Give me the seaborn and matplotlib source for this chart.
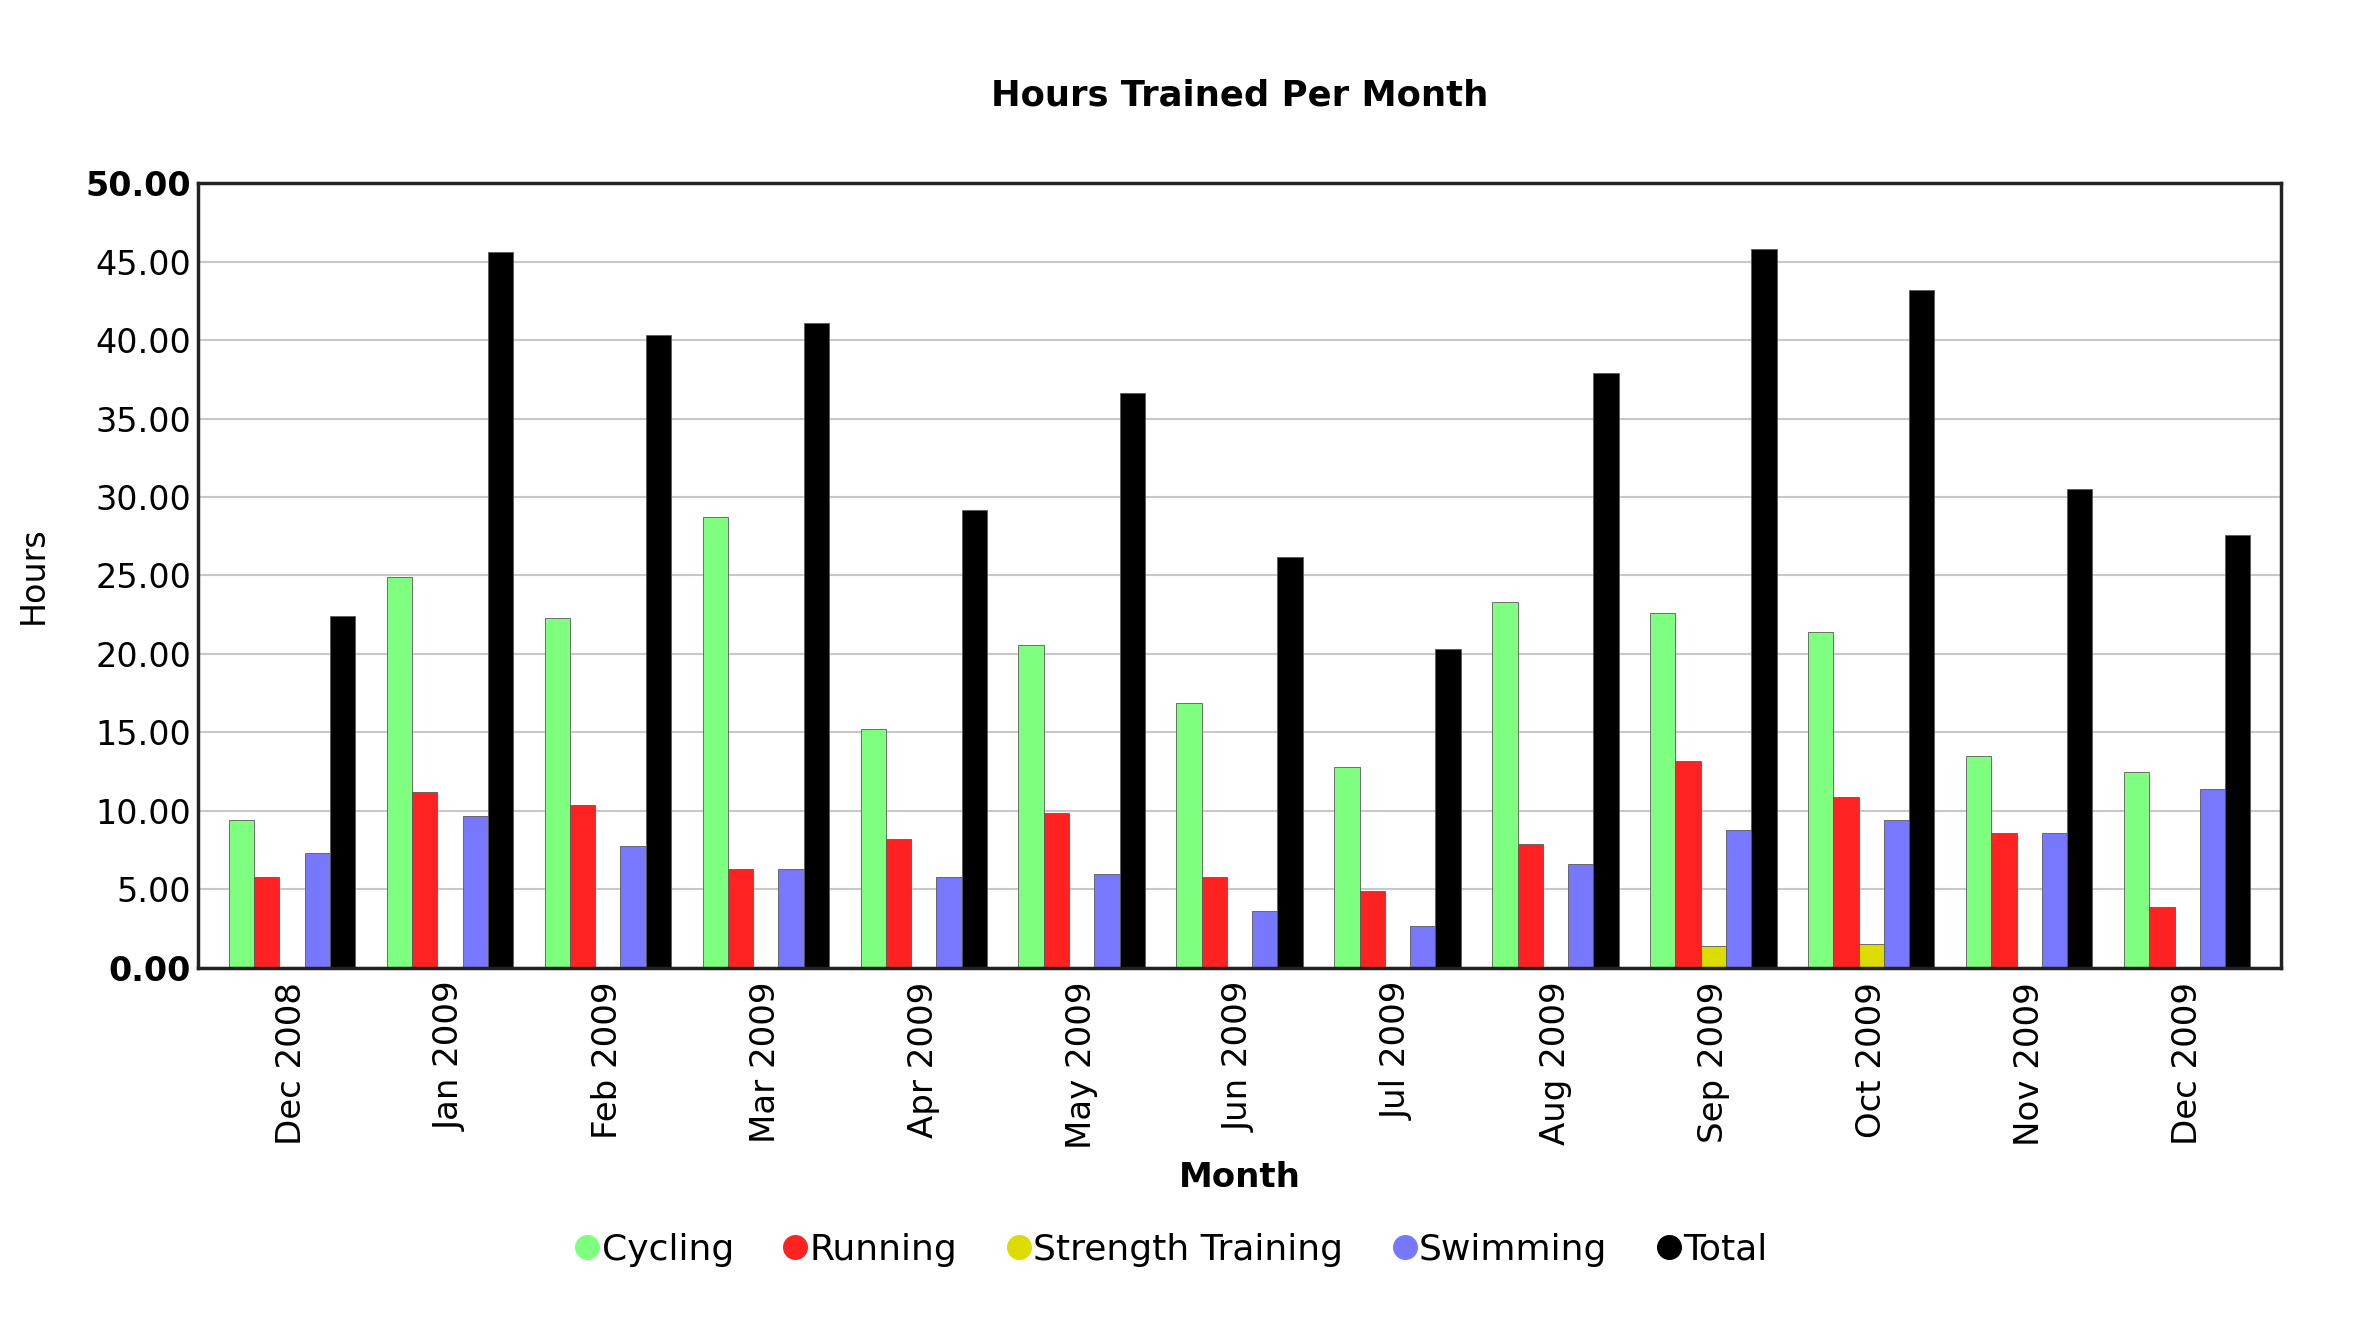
import matplotlib
matplotlib.use("Agg")
import matplotlib.pyplot as plt
from matplotlib.lines import Line2D
import pandas as pd
import seaborn as sns

months = ["Dec 2008", "Jan 2009", "Feb 2009", "Mar 2009", "Apr 2009", "May 2009", "Jun 2009",
          "Jul 2009", "Aug 2009", "Sep 2009", "Oct 2009", "Nov 2009", "Dec 2009"]
cycling = [9.4, 24.9, 22.3, 28.7, 15.2, 20.6, 16.9, 12.8, 23.3, 22.6, 21.4, 13.5, 12.5]
running = [5.8, 11.2, 10.4, 6.3, 8.2, 9.9, 5.8, 4.9, 7.9, 13.2, 10.9, 8.6, 3.9]
strength = [0, 0, 0, 0, 0, 0, 0, 0, 0, 1.4, 1.5, 0, 0]
swimming = [7.3, 9.7, 7.8, 6.3, 5.8, 6.0, 3.6, 2.7, 6.6, 8.8, 9.4, 8.6, 11.4]
total = [22.4, 45.6, 40.3, 41.1, 29.2, 36.6, 26.2, 20.3, 37.9, 45.8, 43.2, 30.5, 27.6]

activities = ["Cycling", "Running", "Strength Training", "Swimming", "Total"]
colors = ["#7fff7f", "#ff2222", "#dcdc00", "#7878ff", "#000000"]

df = pd.DataFrame({"Month": months, "Cycling": cycling, "Running": running,
                   "Strength Training": strength, "Swimming": swimming, "Total": total})
long_df = df.melt(id_vars="Month", var_name="Activity", value_name="Hours")

sns.set_style("white")
plt.rcParams["font.family"] = ["DejaVu Sans"]
plt.rcParams["text.color"] = "black"
plt.rcParams["axes.labelcolor"] = "black"
plt.rcParams["xtick.color"] = "black"
plt.rcParams["ytick.color"] = "black"

fig = plt.figure(figsize=(23.53, 13.34), dpi=100)
ax = fig.add_axes([0.0842, 0.2744, 0.8852, 0.5884])

sns.barplot(data=long_df, x="Month", y="Hours", hue="Activity", hue_order=activities,
            order=months, palette=colors, saturation=1, width=0.8, edgecolor="#5a5a5a",
            linewidth=0.6, ax=ax, legend=False)

ax.set_ylim(0, 50)
ax.set_xlim(-0.594, 12.594)
ax.set_yticks(range(0, 51, 5))
ax.set_yticklabels([f"{v:.2f}" for v in range(0, 51, 5)], fontsize=24)
for lbl in ax.get_yticklabels():
    if lbl.get_text() in ("0.00", "50.00"):
        lbl.set_fontweight("bold")
ax.set_xticks(range(len(months)))
ax.set_xticklabels(months, rotation=90, fontsize=24.5)
ax.tick_params(axis="y", length=0, pad=5)
ax.tick_params(axis="x", length=0, pad=10)

ax.yaxis.grid(True, color="#c8c8c8", linewidth=1.5)
ax.set_axisbelow(True)
for s in ax.spines.values():
    s.set_visible(True)
    s.set_color("#222222")
    s.set_linewidth(2.5)

ax.set_title("Hours Trained Per Month", fontsize=25.5, fontweight="bold", pad=56)
ax.set_ylabel("Hours", fontsize=24, labelpad=26)
ax.set_xlabel("")
fig.text(0.527, 0.117, "Month", fontsize=24.5, fontweight="bold", ha="center", va="center")

handles = [Line2D([], [], marker="o", linestyle="", markersize=17, markerfacecolor=c,
                  markeredgecolor=c, label=a) for a, c in zip(activities, colors)]
fig.legend(handles=handles, loc="center", bbox_to_anchor=(0.495, 0.063), ncol=5,
           frameon=False, fontsize=26, handletextpad=-0.3, handlelength=1.4,
           columnspacing=1.0)

fig.savefig("out.png", dpi=100, facecolor="white")
